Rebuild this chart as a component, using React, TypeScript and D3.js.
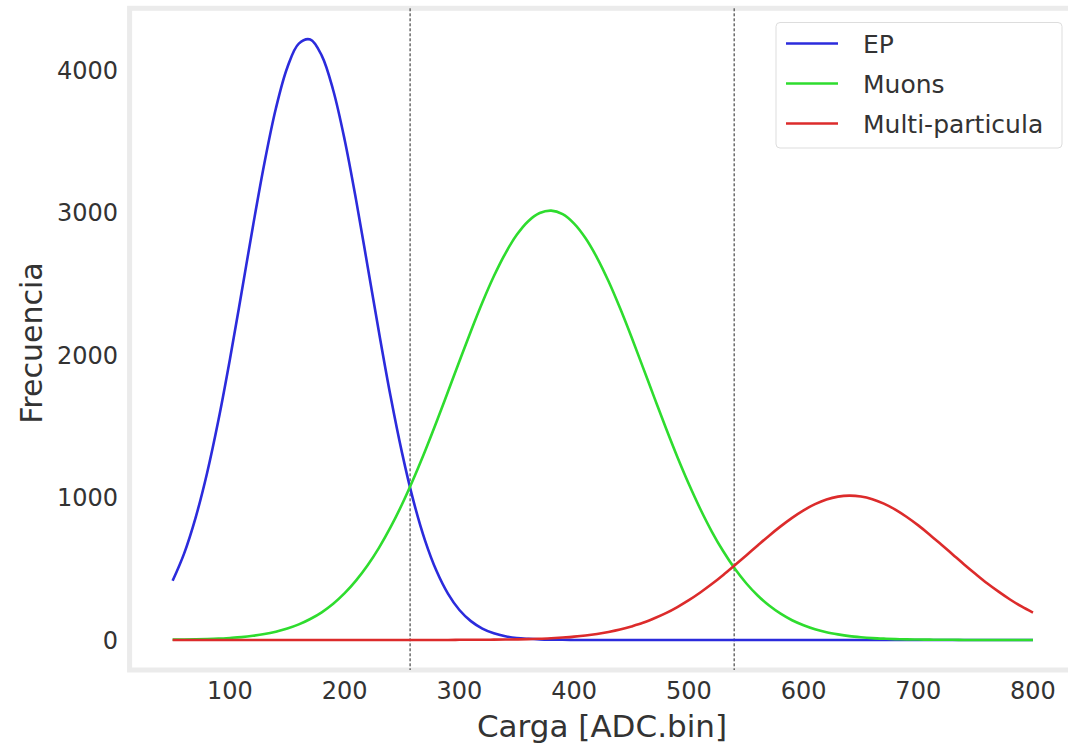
import React from "react";
import * as d3 from "d3";

const chargeBins: number[] = d3.range(50, 801, 10);

const epValues: number[] = [
  415, 606, 857, 1170, 1545, 1972, 2433, 2902, 3346, 3730, 4018, 4185, 4214, 4101, 3858, 3509,
  3085, 2621, 2154, 1710, 1313, 974, 699, 485, 325, 210, 132, 80, 47, 26, 14, 8, 4, 2, 1,
  0, 0, 0, 0, 0, 0, 0, 0, 0, 0, 0, 0, 0, 0, 0, 0, 0, 0, 0, 0, 0, 0, 0, 0, 0, 0, 0, 0, 0, 0,
  0, 0, 0, 0, 0, 0, 0, 0, 0, 0, 0,
];

const muonValues: number[] = [
  2, 3, 4, 6, 9, 14, 20, 29, 41, 58, 80, 109, 147, 194, 254, 328, 418, 524, 648, 791, 952,
  1131, 1324, 1529, 1742, 1956, 2167, 2368, 2552, 2712, 2843, 2939, 2996, 3013, 2988, 2922,
  2819, 2682, 2517, 2329, 2126, 1913, 1699, 1487, 1284, 1094, 919, 761, 622, 501, 398, 312,
  241, 184, 138, 103, 75, 54, 39, 27, 19, 13, 9, 6, 4, 3, 2, 1, 1, 0, 0, 0, 0, 0, 0, 0,
];

const multiValues: number[] = [
  0, 0, 0, 0, 0, 0, 0, 0, 0, 0, 0, 0, 0, 0, 0, 0, 0, 0, 0, 0, 0, 0, 0, 0, 0,
  1, 1, 1, 2, 3, 4, 6, 8, 12, 17, 23, 31, 42, 56, 73, 95, 120, 152, 188, 231, 279, 333, 392,
  456, 524, 593, 663, 732, 797, 857, 910, 953, 986, 1006, 1013, 1007, 988, 957, 915, 863, 804,
  739, 670, 600, 530, 463, 398, 339, 284, 235, 192,
];

const seriesNames = ["EP", "Muons", "Multi-particula"];
const seriesColors = ["#2b2bdc", "#2edc2e", "#dc2b2b"];
const cutLines = [257, 539.5];
const xTicks = [100, 200, 300, 400, 500, 600, 700, 800];
const yTicks = [0, 1000, 2000, 3000, 4000];

export default function App() {
  const W = 1068;
  const H = 746;
  const x = d3.scaleLinear().domain([12.5, 837.5]).range([129.6, 1076]);
  const y = d3.scaleLinear().domain([-211, 4433]).range([670, 8.3]);
  const allSeries = [epValues, muonValues, multiValues];
  const line = d3
    .line<number>()
    .x((_, i) => x(chargeBins[i]))
    .y((d) => y(d))
    .curve(d3.curveCatmullRom.alpha(0.5));
  const font = "DejaVu Sans, sans-serif";
  const textColor = "#333333";

  return (
    <svg
      width={W}
      height={H}
      style={{ position: "absolute", left: 0, top: 0, background: "#fff" }}
      fontFamily={font}
    >
      {/* frame */}
      <rect
        x={x(12.5)}
        y={y(4433)}
        width={x(837.5) - x(12.5)}
        height={y(-211) - y(4433)}
        fill="none"
        stroke="#ebebeb"
        strokeWidth={5}
      />
      {/* dashed cut lines */}
      {cutLines.map((c) => (
        <line
          key={c}
          x1={x(c)}
          x2={x(c)}
          y1={y(4433)}
          y2={y(-211)}
          stroke="#222"
          strokeWidth={1}
          strokeDasharray="3,2"
        />
      ))}
      {/* curves */}
      {allSeries.map((s, i) => (
        <path
          key={seriesNames[i]}
          d={line(s) || ""}
          fill="none"
          stroke={seriesColors[i]}
          strokeWidth={2.6}
        />
      ))}
      {/* y ticks */}
      {yTicks.map((t) => (
        <text
          key={t}
          x={118}
          y={y(t)}
          dy="0.36em"
          textAnchor="end"
          fontSize={24}
          fill={textColor}
        >
          {t}
        </text>
      ))}
      {/* x ticks */}
      {xTicks.map((t) => (
        <text key={t} x={x(t)} y={699} textAnchor="middle" fontSize={24} fill={textColor}>
          {t}
        </text>
      ))}
      {/* axis titles */}
      <text x={602} y={737} textAnchor="middle" fontSize={31} fill={textColor}>
        Carga [ADC.bin]
      </text>
      <text
        transform={`translate(42, 343) rotate(-90)`}
        textAnchor="middle"
        fontSize={30}
        fill={textColor}
      >
        Frecuencia
      </text>
      {/* legend */}
      <rect
        x={776}
        y={22.5}
        width={286}
        height={125.5}
        rx={4}
        fill="#fff"
        stroke="#dddddd"
        strokeWidth={1}
      />
      {seriesNames.map((n, i) => (
        <g key={n}>
          <line
            x1={786}
            x2={838}
            y1={43.5 + i * 40}
            y2={43.5 + i * 40}
            stroke={seriesColors[i]}
            strokeWidth={2.6}
          />
          <text x={863} y={43.5 + i * 40} dy="0.36em" fontSize={25} fill={textColor}>
            {n}
          </text>
        </g>
      ))}
    </svg>
  );
}
